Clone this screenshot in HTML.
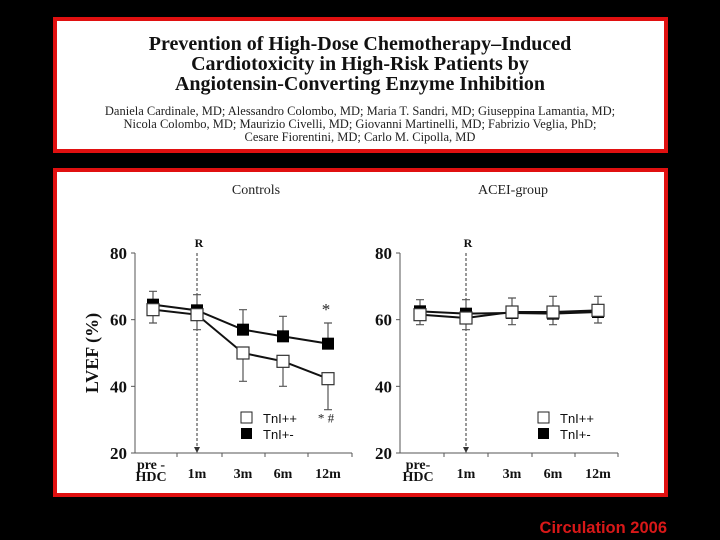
<!DOCTYPE html>
<html><head><meta charset="utf-8"><style>
html,body{margin:0;padding:0;background:#000;width:720px;height:540px;overflow:hidden}
svg{display:block}
</style></head><body>
<svg id="fig" width="720" height="540" viewBox="0 0 720 540" xmlns="http://www.w3.org/2000/svg">
<rect x="0" y="0" width="720" height="540" fill="#000"/>
<g>
<rect x="55" y="19" width="611" height="132" fill="#fff" stroke="#e01010" stroke-width="4"/>
<g font-family="Liberation Serif, serif" font-weight="bold" font-size="20" text-anchor="middle" fill="#111">
<text x="360" y="50">Prevention of High-Dose Chemotherapy–Induced</text>
<text x="360" y="70">Cardiotoxicity in High-Risk Patients by</text>
<text x="360" y="90">Angiotensin-Converting Enzyme Inhibition</text>
</g>
<g font-family="Liberation Serif, serif" font-size="12.5" text-anchor="middle" fill="#222">
<text x="360" y="115">Daniela Cardinale, MD; Alessandro Colombo, MD; Maria T. Sandri, MD; Giuseppina Lamantia, MD;</text>
<text x="360" y="128">Nicola Colombo, MD; Maurizio Civelli, MD; Giovanni Martinelli, MD; Fabrizio Veglia, PhD;</text>
<text x="360" y="141">Cesare Fiorentini, MD; Carlo M. Cipolla, MD</text>
</g>
</g>
<rect x="55" y="170" width="611" height="325" fill="#fff" stroke="#e01010" stroke-width="4"/>
<g id="charts"></g>
<text x="667" y="533" text-anchor="end" font-family="Liberation Sans, sans-serif" font-weight="bold" font-size="16.5" fill="#d81818">Circulation 2006</text>
</svg>
<script>
const categories = ["pre-HDC","1m","3m","6m","12m"];
const yTicks = [20,40,60,80];
const ctrlFilled = [64.5,62.8,57,55,52.8];
const ctrlFilledErrUp = [68.5,67.5,63,61,59];
const ctrlOpen = [63,61.5,50,47.5,42.3];
const ctrlOpenErrDown = [59,57,41.5,40,33];
const aceiFilled = [62.5,61.8,62,61.8,62.3];
const aceiFilledErrUp = [66,66,66.5,67,67];
const aceiOpen = [61.5,60.5,62.3,62.3,62.8];
const aceiOpenErrDown = [58.5,57,58.5,58.5,59];

const NS = "http://www.w3.org/2000/svg";
const root = document.getElementById('charts');
function mk(tag, attrs, parent){const e=document.createElementNS(NS,tag);for(const k in attrs)e.setAttribute(k,attrs[k]);(parent||root).appendChild(e);return e;}

function drawPanel(cfg){
  const g = mk('g',{});
  
  
  const y = v => cfg.y80 + (80 - v) * (cfg.y20 - cfg.y80) / 60;
  const x = i => cfg.px[i];
  const t = mk('text',{x:cfg.titleX,y:194,'text-anchor':'middle','font-family':'Liberation Serif, serif','font-size':'14',fill:'#222'},g);
  t.textContent = cfg.title;
  
  
  const ya = mk('line',{x1:cfg.ax,y1:y(80),x2:cfg.ax,y2:y(20),stroke:'#555','stroke-width':1},g);
  
  
  const xa = mk('line',{x1:cfg.ax,y1:y(20),x2:cfg.xEnd,y2:y(20),stroke:'#555','stroke-width':1},g);
  
  
  yTicks.forEach(v=>{
    mk('line',{x1:cfg.ax-4,y1:y(v),x2:cfg.ax,y2:y(v),stroke:'#555'},g);
    const tl = mk('text',{x:cfg.ax-8,y:y(v)+6,'text-anchor':'end','font-family':'Liberation Serif, serif','font-weight':'bold','font-size':'17',fill:'#111'},g);
    tl.textContent = v;
    
    
  });
  cfg.ticks.forEach(tx=>mk('line',{x1:tx,y1:y(20),x2:tx,y2:y(20)+4,stroke:'#555'},g));
  categories.forEach((c,i)=>{
    if(i===0){
      const a = mk('text',{x:x(0)-2,y:y(20)+16,'text-anchor':'middle','font-family':'Liberation Serif, serif','font-weight':'bold','font-size':'14',fill:'#111'},g);
      a.textContent = cfg.preLabel;
      
      
      const b = mk('text',{x:x(0)-2,y:y(20)+28,'text-anchor':'middle','font-family':'Liberation Serif, serif','font-weight':'bold','font-size':'14',fill:'#111'},g);
      b.textContent = 'HDC';
      
      
    } else {
      const a = mk('text',{x:x(i),y:y(20)+25,'text-anchor':'middle','font-family':'Liberation Serif, serif','font-weight':'bold','font-size':'14',fill:'#111'},g);
      a.textContent = c;
      
      
    }
  });
  if(cfg.ylabel){
    const yl = mk('text',{x:0,y:0,transform:`translate(${cfg.ax-37},${y(50)}) rotate(-90)`,'text-anchor':'middle','font-family':'Liberation Serif, serif','font-weight':'bold','font-size':'18',fill:'#111'},g);
    yl.textContent = 'LVEF (%)';
    
    
  }
  const r = mk('text',{x:x(1)+2,y:y(80)-6,'text-anchor':'middle','font-family':'Liberation Serif, serif','font-weight':'bold','font-size':'12',fill:'#111'},g);
  r.textContent = 'R';
  
  
  const rl = mk('line',{x1:x(1),y1:y(80),x2:x(1),y2:y(20)-4,stroke:'#333','stroke-dasharray':'3,2','stroke-width':1},g);
  
  
  mk('path',{d:`M${x(1)-3},${y(20)-6} L${x(1)+3},${y(20)-6} L${x(1)},${y(20)} Z`,fill:'#333'},g);
  cfg.filled.forEach((v,i)=>{
    const e = mk('path',{d:`M${x(i)},${y(v)} V${y(cfg.fUp[i])} M${x(i)-4},${y(cfg.fUp[i])} H${x(i)+4}`,stroke:'#555','stroke-width':1.2,fill:'none'},g);
    
    
  });
  cfg.open.forEach((v,i)=>{
    const e = mk('path',{d:`M${x(i)},${y(v)} V${y(cfg.oDown[i])} M${x(i)-4},${y(cfg.oDown[i])} H${x(i)+4}`,stroke:'#555','stroke-width':1.2,fill:'none'},g);
    
    
  });
  const lf = mk('polyline',{points:cfg.filled.map((v,i)=>x(i)+','+y(v)).join(' '),fill:'none',stroke:'#111','stroke-width':2},g);
  
  
  const lo = mk('polyline',{points:cfg.open.map((v,i)=>x(i)+','+y(v)).join(' '),fill:'none',stroke:'#111','stroke-width':2},g);
  
  
  cfg.filled.forEach((v,i)=>{
    const m = mk('rect',{x:x(i)-6,y:y(v)-6,width:12,height:12,fill:'#000'},g);
    
    
  });
  cfg.open.forEach((v,i)=>{
    const m = mk('rect',{x:x(i)-6,y:y(v)-6,width:12,height:12,fill:'#fff',stroke:'#333','stroke-width':1.2},g);
    
    
  });
  const lg = mk('g',{},g);
  
  
  mk('rect',{x:cfg.legX,y:412,width:11,height:11,fill:'#fff',stroke:'#222'},lg);
  mk('rect',{x:cfg.legX,y:428,width:11,height:11,fill:'#000'},lg);
  const l1 = mk('text',{x:cfg.legX+22,y:423,'font-family':'Liberation Sans, sans-serif','font-size':'13',fill:'#111'},lg);
  l1.textContent = 'TnI++';
  
  
  const l2 = mk('text',{x:cfg.legX+22,y:439,'font-family':'Liberation Sans, sans-serif','font-size':'13',fill:'#111'},lg);
  l2.textContent = 'TnI+-';
  
  
  if(cfg.stars){
    const s1 = mk('text',{x:x(4)-2,y:y(cfg.fUp[4])-8,'text-anchor':'middle','font-family':'Liberation Serif, serif','font-size':'17',fill:'#222'},g);
    s1.textContent = '*';
    
    
    const s2 = mk('text',{x:x(4)-2,y:y(cfg.oDown[4])+13,'text-anchor':'middle','font-family':'Liberation Serif, serif','font-size':'13',fill:'#222'},g);
    s2.textContent = '* #';
    
    
  }
}
drawPanel({name:'controls-chart',title:'Controls',titleX:256,ax:135,xEnd:352,y80:253,y20:453,
  px:[153,197,243,283,328],ticks:[177,222,265,308,352],preLabel:'pre -',ylabel:true,
  filled:ctrlFilled,fUp:ctrlFilledErrUp,open:ctrlOpen,oDown:ctrlOpenErrDown,legX:241,stars:true});
drawPanel({name:'acei-chart',title:'ACEI-group',titleX:513,ax:400,xEnd:618,y80:253,y20:453,
  px:[420,466,512,553,598],ticks:[444,488,532,575,618],preLabel:'pre-',ylabel:false,
  filled:aceiFilled,fUp:aceiFilledErrUp,open:aceiOpen,oDown:aceiOpenErrDown,legX:538,stars:false});
</script>
</body></html>
